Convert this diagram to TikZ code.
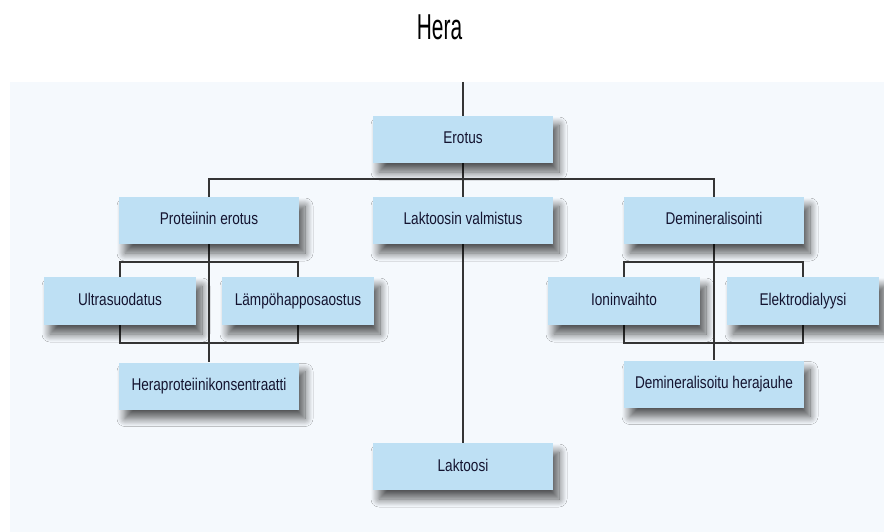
\documentclass[tikz,border=0pt]{standalone}
\usepackage{fontspec}
\usetikzlibrary{shadows.blur}
\newfontfamily\boxfont[FakeStretch=0.8]{Liberation Sans}
\newfontfamily\titlefont[FakeStretch=0.58]{Liberation Sans}
\definecolor{panelbg}{HTML}{F5F9FD}
\definecolor{boxfill}{HTML}{BEE0F4}
\definecolor{boxtext}{HTML}{141430}
\definecolor{linecol}{HTML}{353535}
\pgfdeclarelayer{panel}
\pgfdeclarelayer{wires}
\pgfsetlayers{panel,wires,main}
\tikzset{
  stepbox/.style={rectangle, fill=boxfill, inner sep=0pt,
    minimum width=180pt, minimum height=47pt,
    text height=12.5pt, text depth=3.5pt,
    font=\boxfont\fontsize{17}{20}\selectfont, text=boxtext,
    blur shadow={shadow xshift=6pt, shadow yshift=-9pt,
      shadow blur radius=8pt, shadow opacity=65, shadow blur steps=12}},
  subbox/.style={stepbox, minimum width=152pt, minimum height=48pt},
  link/.style={draw=linecol, line width=1.2pt}
}
\begin{document}
\begin{tikzpicture}[x=1pt, y=-1pt]
  \useasboundingbox (0,0) rectangle (884,532);

  \node[font=\titlefont\fontsize{36}{40}\selectfont, text=black] (title) at (439.5,27) {Hera};

  % junction points of the connectors
  \coordinate (feed) at (463,82);
  \coordinate (split) at (463,179);
  \coordinate (leftbrtop) at (209,262);
  \coordinate (leftbrbot) at (209,343);
  \coordinate (rightbrtop) at (712,262);
  \coordinate (rightbrbot) at (712,343);

  % process boxes
  \path
    (463,139.5) node[stepbox] (erotus) {Erotus}
    (209,220.5) node[stepbox] (prot) {Proteiinin erotus}
    (463,220.5) node[stepbox] (lakval) {Laktoosin valmistus}
    (714,220.5) node[stepbox] (demin) {Demineralisointi}
    (120,301) node[subbox] (ultra) {Ultrasuodatus}
    (298,301) node[subbox] (lampo) {Lämpöhapposaostus}
    (624,301) node[subbox] (ioni) {Ioninvaihto}
    (803,301) node[subbox] (elektro) {Elektrodialyysi}
    (209,386) node[stepbox] (konsentr) {Heraproteiinikonsentraatti}
    (714,384) node[stepbox] (herajauhe) {Demineralisoitu herajauhe}
    (463,466.5) node[stepbox] (laktoosi) {Laktoosi};

  % light panel behind everything
  \begin{pgfonlayer}{panel}
    \fill[panelbg] (10,82) rectangle (884,532);
  \end{pgfonlayer}

  % connectors, beneath the boxes and their shadows
  \begin{pgfonlayer}{wires}
    \draw[link] (feed) -- (erotus.north);
    \draw[link] (erotus.south) -- (lakval.north);
    \draw[link] (prot.north) |- (split) -| (demin.north);
    \draw[link] (prot.south) -- (konsentr.north);
    \draw[link] (lakval.south) -- (laktoosi.north);
    \draw[link] (demin.south) -- (herajauhe.north);
    \draw[link] (ultra.north) |- (leftbrtop) -| (lampo.north);
    \draw[link] (ultra.south) |- (leftbrbot) -| (lampo.south);
    \draw[link] (ioni.north) |- (rightbrtop) -| (elektro.north);
    \draw[link] (ioni.south) |- (rightbrbot) -| (elektro.south);
  \end{pgfonlayer}
\end{tikzpicture}
\end{document}
